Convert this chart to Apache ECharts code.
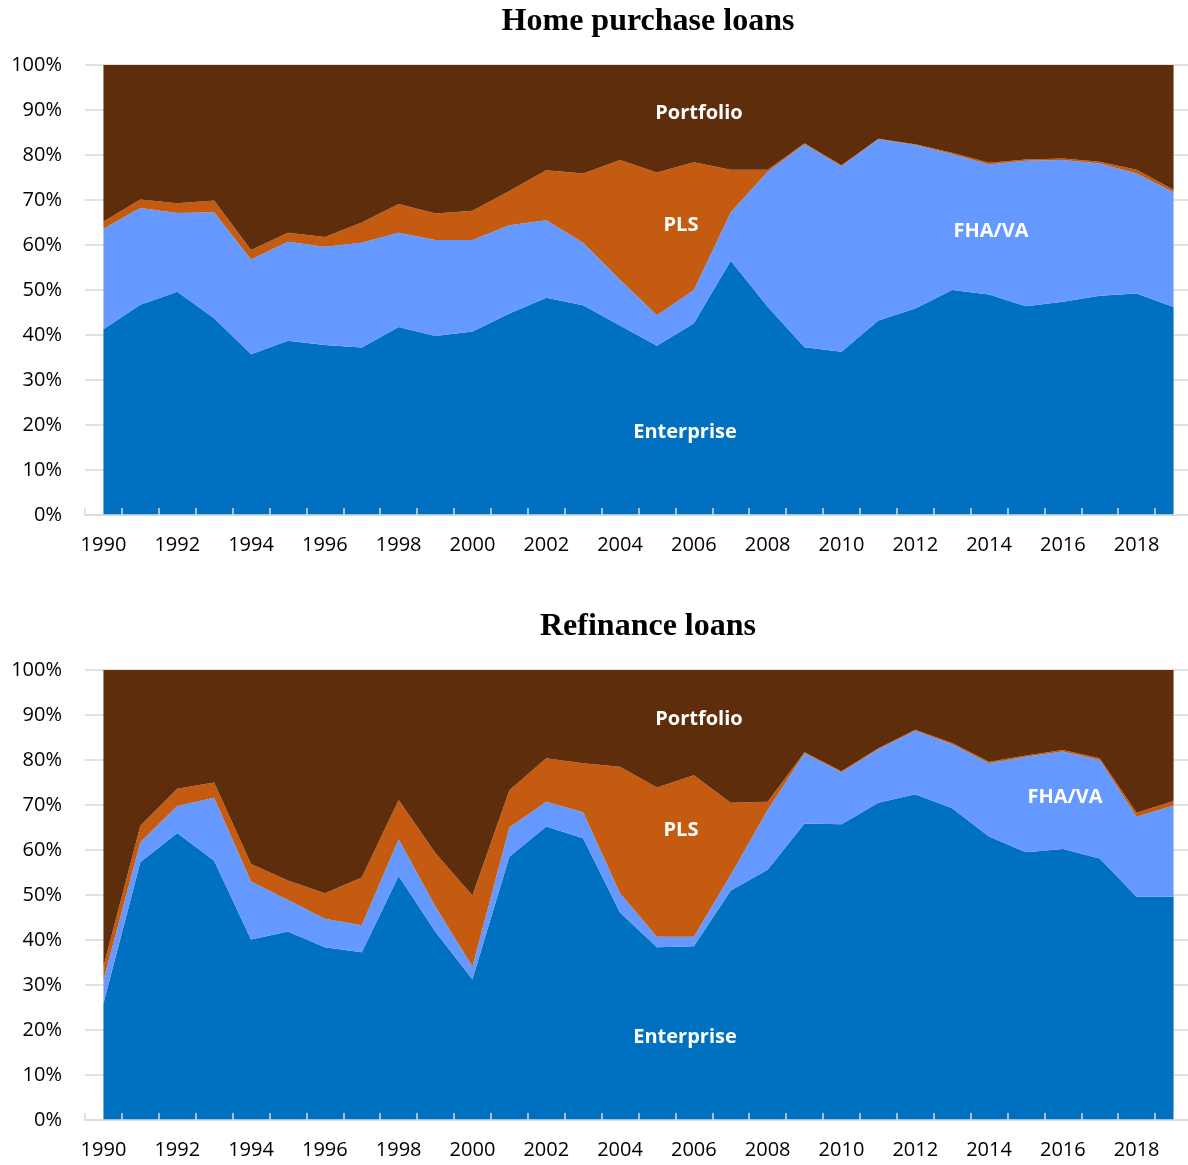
<!DOCTYPE html>
<html>
<head>
<meta charset="utf-8">
<script src="https://cdn.jsdelivr.net/npm/echarts@6/dist/echarts.min.js"></script>
<style>
  html, body { margin: 0; padding: 0; background: #fff; overflow: hidden; }
  #chart { width: 1192px; height: 1165px; }
</style>
</head>
<body>
<div id="chart"></div>
<script>
// years on the x axis
const years = [];
for (let y = 1990; y <= 2019; y++) years.push(String(y));

// Home purchase loans, share of originations (%)
const purchaseEnterprise = [41.3, 46.7, 49.6, 43.7, 35.7, 38.7, 37.8, 37.2, 41.8, 39.8, 40.8, 44.8, 48.3, 46.6, 42.1, 37.6, 42.6, 56.5, 46.3, 37.3, 36.3, 43.2, 45.9, 50.0, 49.0, 46.4, 47.4, 48.7, 49.2, 46.2];
const purchaseFhaVa = [22.3, 21.5, 17.5, 23.6, 21.1, 22.0, 21.8, 23.3, 20.9, 21.3, 20.3, 19.6, 17.2, 13.9, 10.2, 6.8, 7.4, 10.8, 30.0, 45.1, 41.2, 40.3, 36.3, 30.2, 28.9, 32.3, 31.5, 29.4, 26.7, 25.5];
const purchasePls = [1.6, 1.9, 2.2, 2.6, 2.1, 2.0, 2.2, 4.5, 6.4, 5.9, 6.5, 7.6, 11.1, 15.4, 26.6, 31.7, 28.4, 9.4, 0.4, 0.2, 0.2, 0.1, 0.2, 0.3, 0.4, 0.3, 0.3, 0.4, 0.8, 0.6];
const purchasePortfolio = [34.8, 29.9, 30.7, 30.1, 41.1, 37.3, 38.2, 35.0, 30.9, 33.0, 32.4, 28.0, 23.4, 24.1, 21.1, 23.9, 21.6, 23.3, 23.3, 17.4, 22.3, 16.4, 17.6, 19.5, 21.7, 21.0, 20.8, 21.5, 23.3, 27.7];

// Refinance loans, share of originations (%)
const refiEnterprise = [25.9, 57.3, 63.8, 57.6, 40.1, 41.9, 38.4, 37.3, 54.2, 41.8, 31.3, 58.5, 65.2, 62.6, 46.1, 38.4, 38.6, 51.0, 55.6, 65.9, 65.7, 70.5, 72.4, 69.3, 63.0, 59.5, 60.2, 58.1, 49.6, 49.6];
const refiFhaVa = [5.2, 4.4, 6.0, 14.0, 12.9, 7.0, 6.3, 6.0, 8.2, 5.6, 2.8, 6.5, 5.5, 5.8, 4.3, 2.3, 2.1, 3.5, 13.3, 15.6, 11.6, 11.9, 14.1, 14.2, 16.3, 21.2, 21.7, 21.9, 17.8, 20.3];
const refiPls = [3.0, 3.7, 3.8, 3.4, 3.9, 4.3, 5.7, 10.6, 8.7, 11.9, 15.8, 8.3, 9.7, 10.9, 28.1, 33.2, 35.9, 16.0, 1.8, 0.2, 0.2, 0.2, 0.2, 0.3, 0.3, 0.3, 0.3, 0.4, 0.9, 1.0];
const refiPortfolio = [65.9, 34.6, 26.4, 25.0, 43.1, 46.8, 49.6, 46.1, 28.9, 40.7, 50.1, 26.7, 19.6, 20.7, 21.5, 26.1, 23.4, 29.5, 29.3, 18.3, 22.5, 17.4, 13.3, 16.2, 20.4, 19.0, 17.8, 19.6, 31.7, 29.1];

const seriesNames = ['Enterprise', 'FHA/VA', 'PLS', 'Portfolio'];
const colors = ['#0070C0', '#6699FF', '#C55A11', '#5E2D0B'];

const chart = echarts.init(document.getElementById('chart'));

function xAxisFor(gridIndex) {
  return {
    type: 'category',
    gridIndex: gridIndex,
    data: years,
    boundaryGap: true,
    z: 5,
    axisLine: { lineStyle: { color: '#d9d9d9', width: 1.5 } },
    axisTick: { show: true, inside: true, length: 7, interval: 0, lineStyle: { color: '#d9d9d9', width: 1.5 } },
    axisLabel: { interval: 1, margin: 20, color: '#000', fontFamily: 'Open Sans', fontSize: 20 }
  };
}

function yAxisFor(gridIndex) {
  return {
    type: 'value',
    gridIndex: gridIndex,
    min: 0,
    max: 100,
    interval: 10,
    axisLine: { show: false },
    axisTick: { show: false },
    splitLine: { lineStyle: { color: '#d9d9d9', width: 1.5 } },
    axisLabel: { formatter: '{value}%', margin: 23, color: '#000', fontFamily: 'Open Sans', fontSize: 20 }
  };
}

function areaSeries(values, idx, gridIndex) {
  return {
    name: seriesNames[idx],
    type: 'line',
    xAxisIndex: gridIndex,
    yAxisIndex: gridIndex,
    stack: 'total' + gridIndex,
    symbol: 'none',
    lineStyle: { width: 0 },
    areaStyle: { color: colors[idx], opacity: 1 },
    data: values
  };
}

// white in-chart series labels
function label(text, x, y) {
  return {
    type: 'text',
    x: x,
    y: y,
    z: 100,
    style: {
      text: text,
      fill: '#fff',
      fontFamily: 'Open Sans',
      fontWeight: 'bold',
      fontSize: 20,
      align: 'center',
      verticalAlign: 'middle'
    }
  };
}

const titleStyle = { fontFamily: 'Liberation Serif', fontSize: 32, fontWeight: 'bold', color: '#000' };

chart.setOption({
  animation: false,
  title: [
    { text: 'Home purchase loans', left: 643, top: 1, textAlign: 'center', textStyle: titleStyle },
    { text: 'Refinance loans', left: 643, top: 606, textAlign: 'center', textStyle: titleStyle }
  ],
  grid: [
    { left: 85, right: 0, top: 65, height: 450 },
    { left: 85, right: 0, top: 670, height: 450 }
  ],
  xAxis: [xAxisFor(0), xAxisFor(1)],
  yAxis: [yAxisFor(0), yAxisFor(1)],
  series: [
    areaSeries(purchaseEnterprise, 0, 0),
    areaSeries(purchaseFhaVa, 1, 0),
    areaSeries(purchasePls, 2, 0),
    areaSeries(purchasePortfolio, 3, 0),
    areaSeries(refiEnterprise, 0, 1),
    areaSeries(refiFhaVa, 1, 1),
    areaSeries(refiPls, 2, 1),
    areaSeries(refiPortfolio, 3, 1)
  ],
  graphic: [
    label('Portfolio', 699, 113),
    label('PLS', 681, 225),
    label('FHA/VA', 991, 231),
    label('Enterprise', 685, 432),
    label('Portfolio', 699, 719),
    label('PLS', 681, 830),
    label('FHA/VA', 1065, 797),
    label('Enterprise', 685, 1037)
  ]
});
</script>
</body>
</html>
